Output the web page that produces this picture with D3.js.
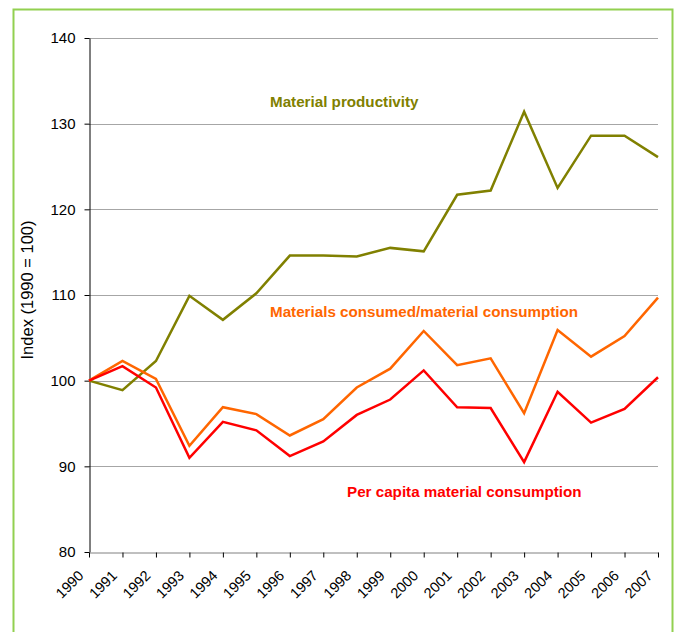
<!DOCTYPE html>
<html><head><meta charset="utf-8">
<script src="https://cdn.jsdelivr.net/npm/d3@7"></script>
<style>body{margin:0;background:#fff;}svg{display:block;font-family:"Liberation Sans",Arial,sans-serif;}</style>
</head><body>
<script>
const years = ["1990","1991","1992","1993","1994","1995","1996","1997","1998","1999","2000","2001","2002","2003","2004","2005","2006","2007"];
const productivity = [100,98.9,102.3,109.9,107.1,110.2,114.6,114.6,114.5,115.5,115.1,121.7,122.2,131.4,122.5,128.6,128.6,126.1];
const consumed = [100,102.3,100.2,92.4,96.9,96.1,93.6,95.5,99.2,101.4,105.8,101.8,102.6,96.2,105.9,102.8,105.2,109.7];
const perCapita = [100,101.7,99.2,91.0,95.2,94.2,91.2,92.9,96.0,97.8,101.2,96.9,96.8,90.5,98.7,95.1,96.7,100.4];
const yTicks = [80,90,100,110,120,130,140];
const seriesNames = ["Material productivity","Materials consumed/material consumption","Per capita material consumption"];

const W=677,H=632;
const svg=d3.select("body").append("svg").attr("width",W).attr("height",H);
svg.append("rect").attr("x",13.5).attr("y",9.5).attr("width",659).attr("height",640).attr("fill","none").attr("stroke","#92D050").attr("stroke-width",2);

const x=d3.scalePoint().domain(years).range([89,658]);
const y=d3.scaleLinear().domain([80,140]).range([552,38]);

// gridlines
svg.append("g").selectAll("line").data(yTicks.filter(d=>d>80)).join("line")
 .attr("x1",89).attr("x2",658).attr("y1",d=>Math.round(y(d))+0.5).attr("y2",d=>Math.round(y(d))+0.5)
 .attr("stroke","#a6a6a6").attr("stroke-width",1);

// y axis
const ya=svg.append("g").attr("transform","translate(89.5,0)").call(d3.axisLeft(y).tickValues(yTicks).tickSize(5).tickSizeOuter(0).tickPadding(9));
ya.select(".domain").attr("stroke","#000");
ya.selectAll("text").attr("font-size",15).attr("fill","#000").attr("font-family","Liberation Sans, Arial, sans-serif");

// x axis
const xa=svg.append("g").attr("transform","translate(0,"+(Math.round(y(80))+0.5)+")").call(d3.axisBottom(x).tickSize(5).tickSizeOuter(0));
xa.select(".domain").attr("stroke","#808080");
xa.selectAll("text").attr("font-size",14.5).attr("fill","#000").attr("font-family","Liberation Sans, Arial, sans-serif")
 .attr("text-anchor","end").attr("dy",0).attr("y",0)
 .attr("transform","translate(-5,24) rotate(-45)");

svg.append("text").attr("transform","translate(33,290) rotate(-90)").attr("text-anchor","middle")
 .attr("font-size",16.5).attr("fill","#000").text("Index (1990 = 100)");

const line=d3.line().x((d,i)=>x(years[i])).y(d=>y(d));
const data=[[productivity,"#808000"],[consumed,"#FF6600"],[perCapita,"#FF0000"]];
svg.append("g").selectAll("path").data(data).join("path")
 .attr("d",d=>line(d[0])).attr("fill","none").attr("stroke",d=>d[1]).attr("stroke-width",2.5).attr("stroke-linejoin","miter");

const labels=[[seriesNames[0],270,107,"#808000"],[seriesNames[1],270,317,"#FF6600"],[seriesNames[2],347,497,"#FF0000"]];
svg.append("g").selectAll("text").data(labels).join("text")
 .attr("x",d=>d[1]).attr("y",d=>d[2]).attr("fill",d=>d[3]).attr("font-weight","bold").attr("font-size",15.2).text(d=>d[0]);
</script>
</body></html>
